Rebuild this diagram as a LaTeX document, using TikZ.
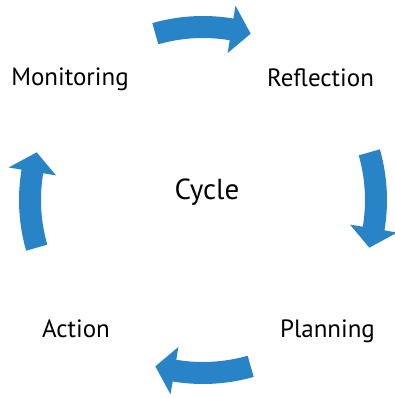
\documentclass[tikz,border=0pt]{standalone}
\usepackage{fontspec}
\setmainfont{PT Sans}
\definecolor{cycblue}{RGB}{41,132,199}
\tikzset{
  lbl/.style={anchor=base, inner sep=0pt, font=\fontsize{25}{28}\selectfont, text=black},
  cyclbl/.style={lbl, font=\fontsize{29}{32}\selectfont},
  cycarrow/.style={fill=cycblue, draw=none}
}
\newcommand{\cycarr}[1]{%
  \pgfmathsetmacro{\aA}{#1+16}%
  \pgfmathsetmacro{\aB}{#1-16}%
  \pgfmathsetmacro{\aH}{#1-9.5}%
  \fill[cycarrow] ($(C)+(\aA:184)$) arc[start angle=\aA, end angle=\aH, radius=184]
    -- ($(C)+(\aH:197)$) -- ($(C)+(\aB:173)$) -- ($(C)+(\aH:149)$) -- ($(C)+(\aH:162)$)
    arc[start angle=\aH, end angle=\aA, radius=162] -- cycle;%
}
\usetikzlibrary{calc}
\begin{document}
\begin{tikzpicture}[x=1pt,y=1pt]
\useasboundingbox (0,0) rectangle (394,-398);
\coordinate (C) at (203,-200);
\cycarr{90}
\cycarr{0}
\cycarr{-90}
\cycarr{180}
\node[lbl] (mon) at (70,-86) {Monitoring};
\node[lbl] (ref) at (320.5,-87) {Reflection};
\node[cyclbl] (cyc) at (207,-199) {Cycle};
\node[lbl] (act) at (76,-337) {Action};
\node[lbl] (pla) at (327.5,-337) {Planning};
\end{tikzpicture}
\end{document}
